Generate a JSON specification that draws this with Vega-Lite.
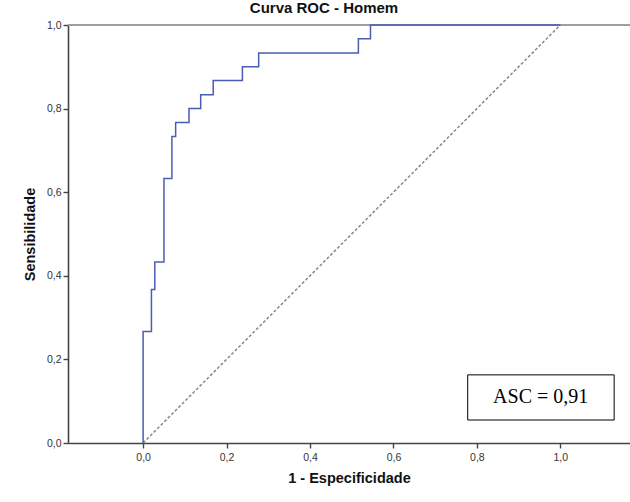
{
  "$schema": "https://vega.github.io/schema/vega-lite/v6.json",
  "width": 562,
  "height": 418,
  "autosize": {"type": "none"},
  "padding": {"left": 68, "top": 25, "right": 0, "bottom": 59},
  "background": "white",
  "config": {
    "view": {"stroke": null},
    "font": "Liberation Sans",
    "axis": {
      "domainColor": "#444444",
      "domainWidth": 1.6,
      "tickColor": "#444444",
      "tickWidth": 1.4,
      "tickSize": 5,
      "grid": false,
      "labelFont": "Liberation Sans",
      "labelFontSize": 10.5,
      "labelColor": "#333333",
      "titleFont": "Liberation Sans",
      "titleFontSize": 14.5,
      "titleFontWeight": "bold",
      "titleColor": "#111111"
    }
  },
  "title": {
    "text": "Curva ROC - Homem",
    "font": "Liberation Sans",
    "fontSize": 15,
    "fontWeight": "bold",
    "color": "#111111",
    "offset": 4,
    "dx": -25
  },
  "datasets": {
    "roc": [
      {"k": 0, "fpr": 0.0, "tpr": 0.0},
      {"k": 1, "fpr": 0.0, "tpr": 0.267},
      {"k": 2, "fpr": 0.020, "tpr": 0.267},
      {"k": 3, "fpr": 0.020, "tpr": 0.367},
      {"k": 4, "fpr": 0.028, "tpr": 0.367},
      {"k": 5, "fpr": 0.028, "tpr": 0.433},
      {"k": 6, "fpr": 0.050, "tpr": 0.433},
      {"k": 7, "fpr": 0.050, "tpr": 0.633},
      {"k": 8, "fpr": 0.069, "tpr": 0.633},
      {"k": 9, "fpr": 0.069, "tpr": 0.733},
      {"k": 10, "fpr": 0.078, "tpr": 0.733},
      {"k": 11, "fpr": 0.078, "tpr": 0.767},
      {"k": 12, "fpr": 0.110, "tpr": 0.767},
      {"k": 13, "fpr": 0.110, "tpr": 0.800},
      {"k": 14, "fpr": 0.138, "tpr": 0.800},
      {"k": 15, "fpr": 0.138, "tpr": 0.833},
      {"k": 16, "fpr": 0.168, "tpr": 0.833},
      {"k": 17, "fpr": 0.168, "tpr": 0.867},
      {"k": 18, "fpr": 0.238, "tpr": 0.867},
      {"k": 19, "fpr": 0.238, "tpr": 0.900},
      {"k": 20, "fpr": 0.277, "tpr": 0.900},
      {"k": 21, "fpr": 0.277, "tpr": 0.933},
      {"k": 22, "fpr": 0.516, "tpr": 0.933},
      {"k": 23, "fpr": 0.516, "tpr": 0.967},
      {"k": 24, "fpr": 0.545, "tpr": 0.967},
      {"k": 25, "fpr": 0.545, "tpr": 1.0},
      {"k": 26, "fpr": 1.0, "tpr": 1.0}
    ],
    "ref": [
      {"fpr": 0, "tpr": 0},
      {"fpr": 1, "tpr": 1}
    ],
    "note": [
      {"label": "ASC = 0,91"}
    ]
  },
  "layer": [
    {
      "data": {"name": "ref"},
      "mark": {"type": "rule", "color": "#999999", "strokeWidth": 1.5},
      "encoding": {
        "y": {"datum": 1, "type": "quantitative", "scale": {"domain": [0, 1], "nice": false}}
      }
    },
    {
      "data": {"name": "ref"},
      "mark": {"type": "line", "color": "#888888", "strokeWidth": 1.5, "strokeDash": [3, 2]},
      "encoding": {
        "x": {
          "field": "fpr",
          "type": "quantitative",
          "scale": {"domain": [-0.18, 1.167], "nice": false, "zero": false},
          "axis": {
            "title": "1 - Especificidade",
            "values": [0, 0.2, 0.4, 0.6, 0.8, 1.0],
            "labelExpr": "replace(format(datum.value, '.1f'), '.', ',')",
            "titlePadding": 9,
            "labelPadding": 4
          }
        },
        "y": {
          "field": "tpr",
          "type": "quantitative",
          "scale": {"domain": [0, 1], "nice": false},
          "axis": {
            "title": "Sensibilidade",
            "values": [0, 0.2, 0.4, 0.6, 0.8, 1.0],
            "labelExpr": "replace(format(datum.value, '.1f'), '.', ',')",
            "titlePadding": 9,
            "labelPadding": 2
          }
        }
      }
    },
    {
      "data": {"name": "roc"},
      "mark": {"type": "line", "color": "#4a5db3", "strokeWidth": 1.5},
      "encoding": {
        "x": {"field": "fpr", "type": "quantitative"},
        "y": {"field": "tpr", "type": "quantitative"},
        "order": {"field": "k", "type": "quantitative"}
      }
    },
    {
      "data": {"name": "note"},
      "mark": {"type": "rect", "fill": "white", "stroke": "black", "strokeWidth": 1},
      "encoding": {
        "x": {"datum": 0.778, "type": "quantitative"},
        "x2": {"datum": 1.129},
        "y": {"datum": 0.055, "type": "quantitative"},
        "y2": {"datum": 0.163}
      }
    },
    {
      "data": {"name": "note"},
      "mark": {"type": "text", "font": "Liberation Serif", "fontSize": 20, "color": "black", "baseline": "middle", "align": "center"},
      "encoding": {
        "x": {"datum": 0.953, "type": "quantitative"},
        "y": {"datum": 0.109, "type": "quantitative"},
        "text": {"field": "label"}
      }
    }
  ]
}
